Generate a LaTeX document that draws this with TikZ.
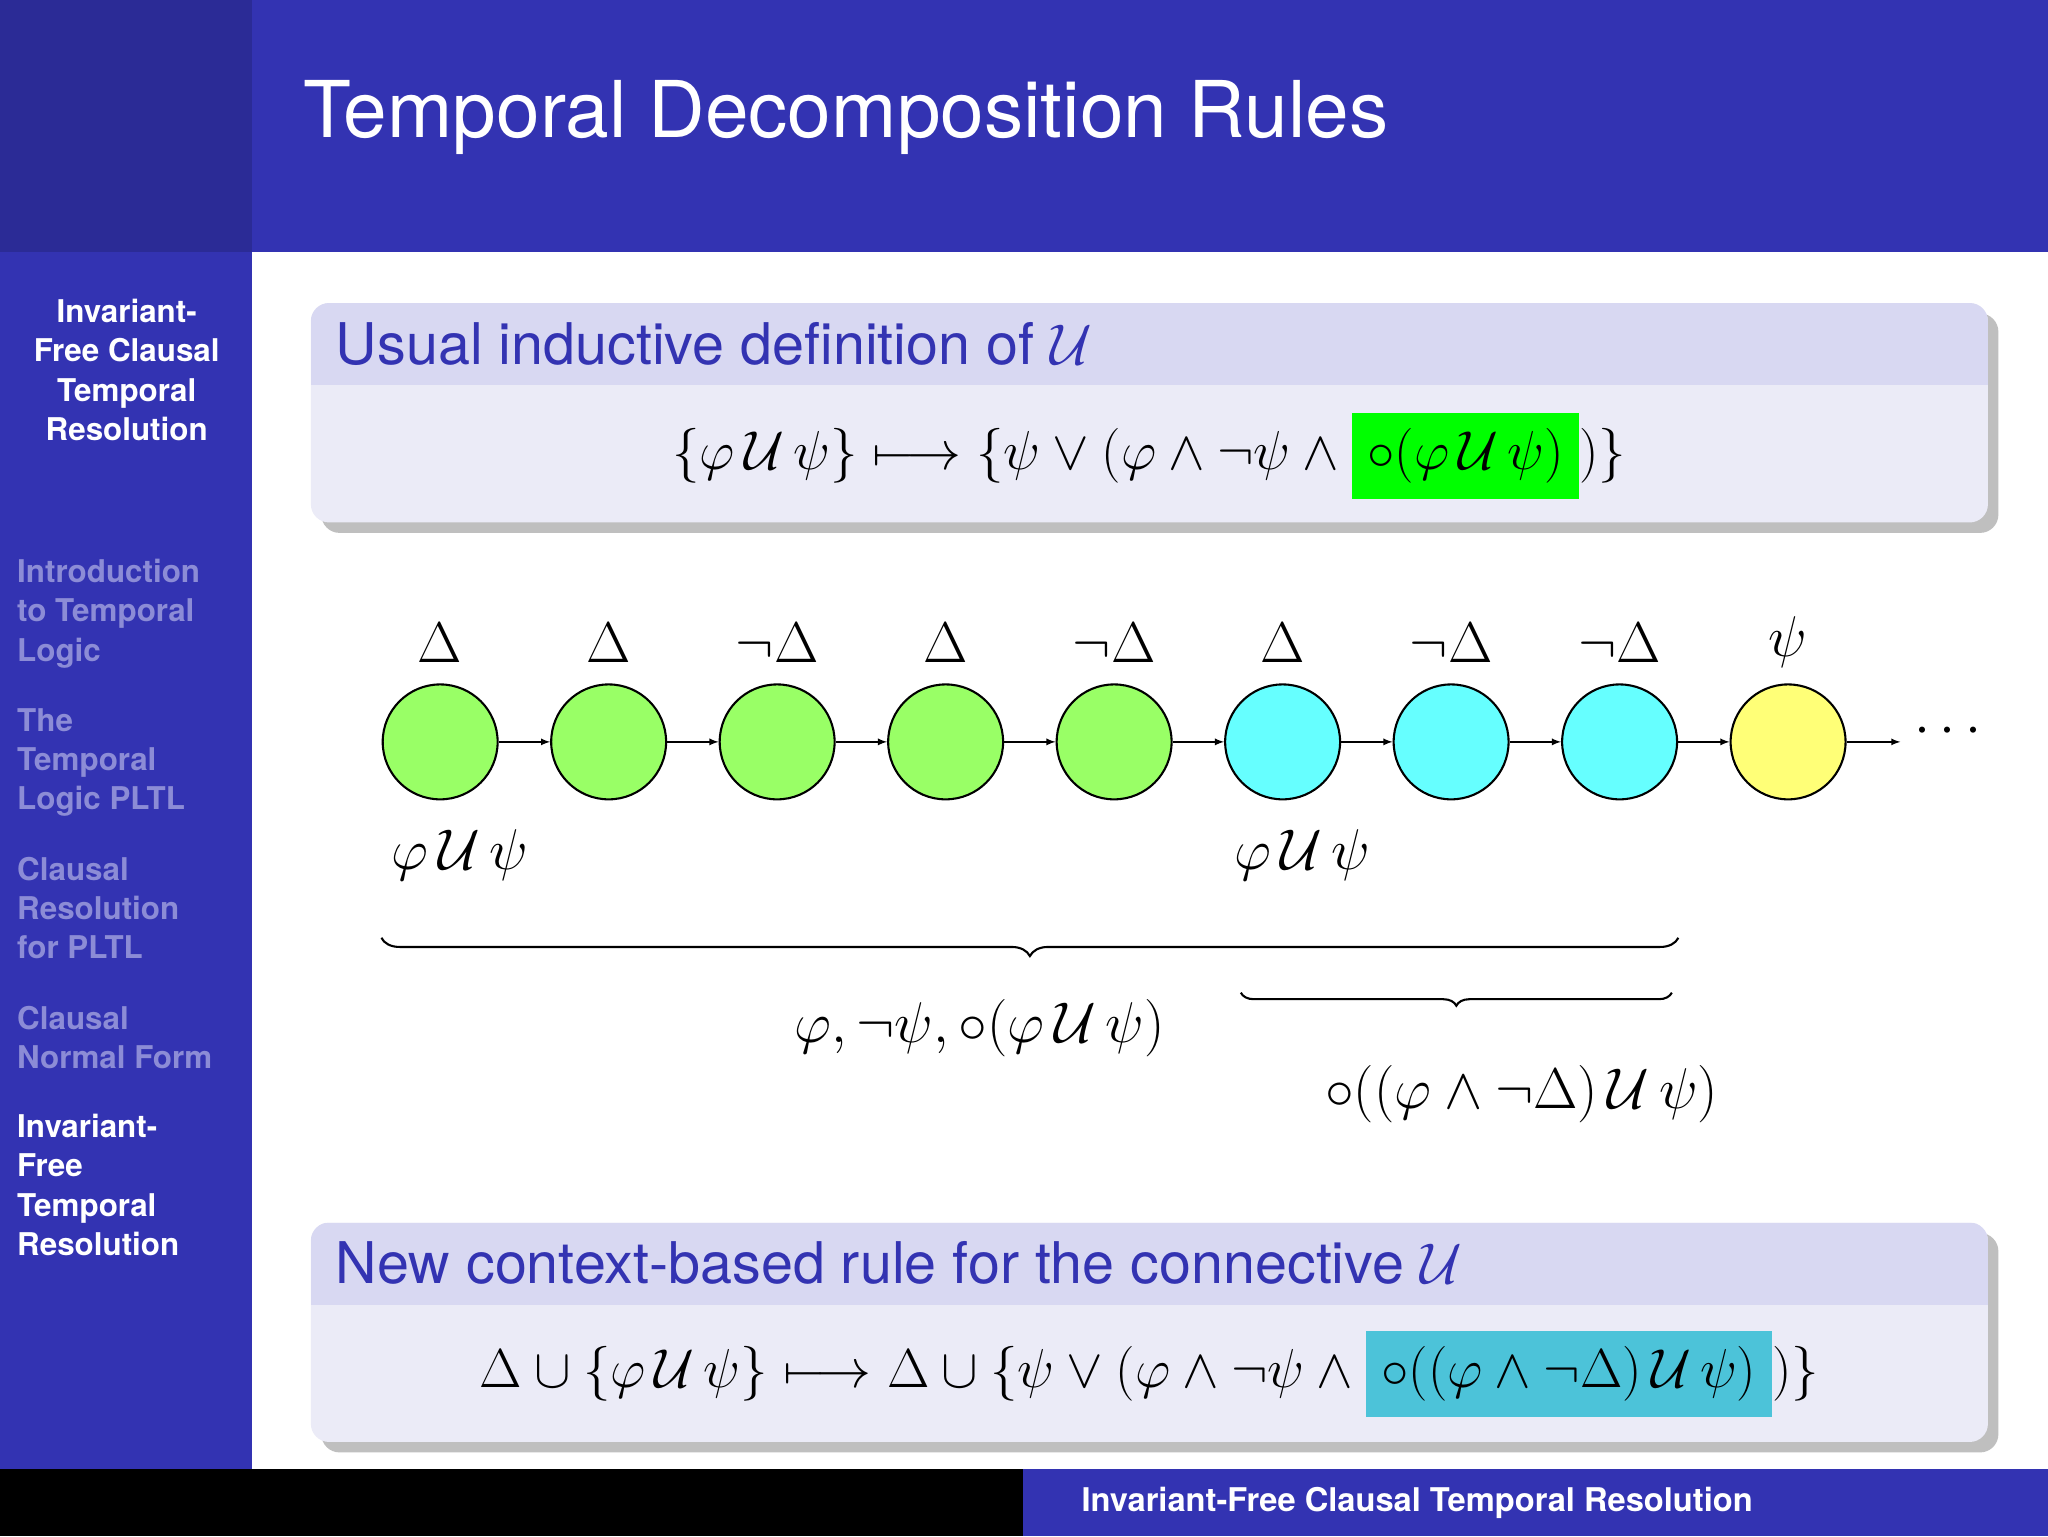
\RequirePackage{fix-cm}
\documentclass[tikz,border=0pt]{standalone}
\usepackage{amsmath,amssymb}
\usepackage{fontspec}
\setsansfont{TeX Gyre Heros}
\usetikzlibrary{decorations.pathreplacing,shadows}
\definecolor{bblue}{RGB}{51,51,178}
\definecolor{dblue}{RGB}{43,43,150}
\definecolor{fade}{RGB}{140,140,214}
\definecolor{btitle}{RGB}{216,216,242}
\definecolor{bbody}{RGB}{235,235,247}
\definecolor{cgreen}{RGB}{153,255,102}
\definecolor{ccyan}{RGB}{102,255,255}
\definecolor{cyell}{RGB}{255,255,119}
\definecolor{hcyan}{RGB}{76,195,217}
\newcommand{\UU}{\mathcal{U}}
\tikzset{
  side/.style={font=\sffamily\bfseries\fontsize{24}{30}\selectfont,align=left,anchor=north west,inner sep=0pt},
  st/.style={circle,draw,line width=1.6pt,minimum size=88pt,inner sep=0pt},
  lab/.style={font=\fontsize{44}{50}\selectfont},
  fm/.style={font=\fontsize{42}{50}\selectfont},
  arr/.style={-latex,line width=1.4pt},
  brc/.style={decorate,decoration={brace,mirror,amplitude=14pt},line width=1.6pt},
  btl/.style={font=\sffamily\fontsize{44}{50}\selectfont,text=bblue,anchor=west,inner sep=0pt}
}
\begin{document}
\begin{tikzpicture}[x=1pt,y=-1pt]
\useasboundingbox (0,0) rectangle (1568,1176);
\fill[white] (0,0) rectangle (1568,1176);
\fill[bblue] (0,0) rectangle (1568,193);
\fill[dblue] (0,0) rectangle (193,193);
\fill[bblue] (0,193) rectangle (193,1125);
\node[font=\sffamily\fontsize{60}{70}\selectfont,text=white,anchor=west,inner sep=0pt] (title) at (232,90) {Temporal Decomposition Rules};
\node[font=\sffamily\bfseries\fontsize{24}{30}\selectfont,text=white,align=center,anchor=north,inner sep=0pt] (st) at (97,229) {Invariant-\\Free Clausal\\Temporal\\Resolution};
\node[side,text=fade] (s1) at (13,428) {Introduction\\to Temporal\\Logic};
\node[side,text=fade] (s2) at (13,542) {The\\Temporal\\Logic PLTL};
\node[side,text=fade] (s3) at (13,656) {Clausal\\Resolution\\for PLTL};
\node[side,text=fade] (s4) at (13,770) {Clausal\\Normal Form};
\node[side,text=white] (s5) at (13,853) {Invariant-\\Free\\Temporal\\Resolution};
\fill[black] (0,1125) rectangle (783,1176);
\fill[bblue] (783,1125) rectangle (1568,1176);
\node[font=\sffamily\bfseries\fontsize{25}{30}\selectfont,text=white] (foot) at (1085,1151) {Invariant-Free Clausal Temporal Resolution};
% block 1
\fill[black!25,rounded corners=14pt] (246,240) rectangle (1530,408);
\fill[bbody,rounded corners=14pt] (238,232) rectangle (1522,400);
\begin{scope}
\clip[rounded corners=14pt] (238,232) rectangle (1522,400);
\fill[btitle] (238,232) rectangle (1522,295);
\end{scope}
\node[btl] (b1t) at (257,263) {Usual inductive definition of $\UU$};
\node[fm] (b1f) at (880,349) {$\{\varphi\,\UU\,\psi\}\longmapsto\{\psi\vee(\varphi\wedge\neg\psi\wedge\setlength{\fboxsep}{12pt}\colorbox{green}{$\circ(\varphi\,\UU\,\psi)$})\}$};
% block 2
\fill[black!25,rounded corners=14pt] (246,944) rectangle (1530,1112);
\fill[bbody,rounded corners=14pt] (238,936) rectangle (1522,1104);
\begin{scope}
\clip[rounded corners=14pt] (238,936) rectangle (1522,1104);
\fill[btitle] (238,936) rectangle (1522,999);
\end{scope}
\node[btl] (b2t) at (257,967) {New context-based rule for the connective $\UU$};
\node[fm] (b2f) at (880,1052) {$\Delta\cup\{\varphi\,\UU\,\psi\}\longmapsto\Delta\cup\{\psi\vee(\varphi\wedge\neg\psi\wedge\setlength{\fboxsep}{12pt}\colorbox{hcyan}{$\circ((\varphi\wedge\neg\Delta)\,\UU\,\psi)$})\}$};
% states
\foreach \i/\x/\c/\l in {1/337/cgreen/\Delta,2/466/cgreen/\Delta,3/595/cgreen/\neg\Delta,4/724/cgreen/\Delta,5/853/cgreen/\neg\Delta,6/982/ccyan/\Delta,7/1111/ccyan/\neg\Delta,8/1240/ccyan/\neg\Delta,9/1369/cyell/\psi}{
  \node[st,fill=\c] (n\i) at (\x,568) {};
  \node[lab] (l\i) at (\x,492) {$\l$};
}
\foreach \a/\b in {1/2,2/3,3/4,4/5,5/6,6/7,7/8,8/9}{\draw[arr] (n\a) -- (n\b);}
\coordinate (end) at (1455,568);
\draw[arr] (n9) -- (end);
\node[lab] (dots) at (1495,560) {$\cdots$};
\node[lab] (u1) at (352,655) {$\varphi\,\UU\,\psi$};
\node[lab] (u2) at (997,655) {$\varphi\,\UU\,\psi$};
\coordinate (br1a) at (292,718);
\coordinate (br1b) at (1285,718);
\draw[brc] (br1a) -- (br1b);
\coordinate (br2a) at (950,760);
\coordinate (br2b) at (1280,760);
\draw[brc,decoration={amplitude=10pt}] (br2a) -- (br2b);
\node[lab] (t1) at (750,787) {$\varphi,\neg\psi,\circ(\varphi\,\UU\,\psi)$};
\node[lab] (t2) at (1165,838) {$\circ((\varphi\wedge\neg\Delta)\,\UU\,\psi)$};
\end{tikzpicture}
\end{document}
